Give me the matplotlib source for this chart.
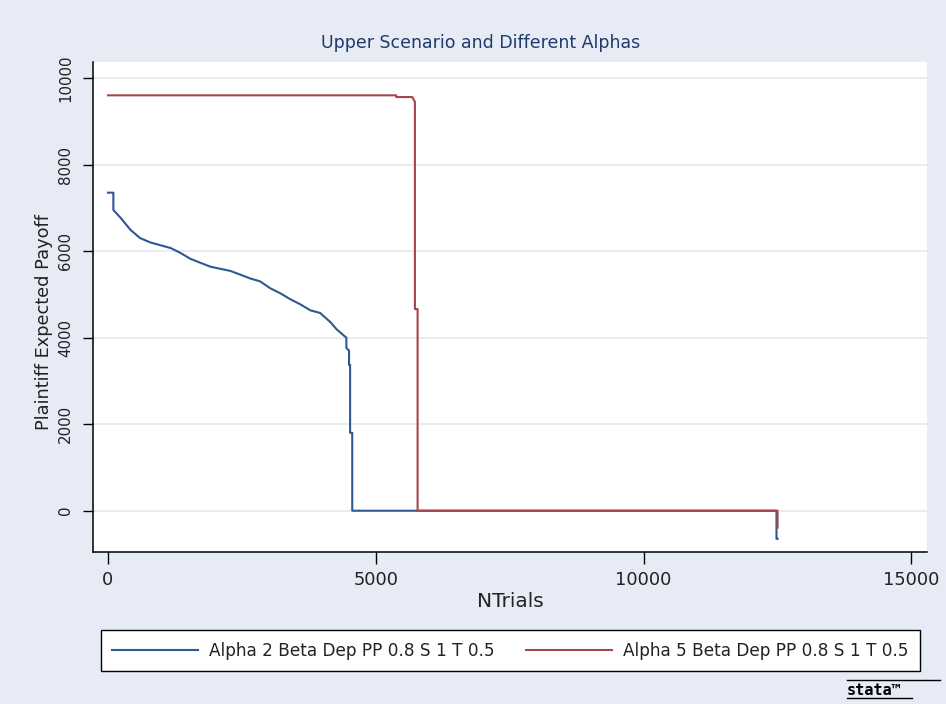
import matplotlib
matplotlib.use("Agg")
import matplotlib.pyplot as plt
from matplotlib.lines import Line2D

# Plaintiff expected payoff by number of trials
alpha2_trials = [0, 100, 100, 235, 420, 600, 790, 1170, 1350, 1540, 1910, 2290,
                 2650, 2840, 3030, 3210, 3400, 3590, 3780, 3960, 4150, 4270,
                 4430, 4450, 4450, 4500, 4500, 4520, 4520, 4560, 4560, 12480,
                 12480, 12500]
alpha2_payoff = [7350, 7350, 6950, 6770, 6490, 6300, 6200, 6070, 5960, 5820,
                 5640, 5540, 5370, 5300, 5140, 5030, 4890, 4770, 4630, 4570,
                 4360, 4190, 4020, 4000, 3760, 3700, 3370, 3370, 1800, 1800,
                 0, 0, -650, -650]

alpha5_trials = [0, 5380, 5380, 5680, 5730, 5730, 5780, 5780, 12500, 12500]
alpha5_payoff = [9600, 9600, 9560, 9560, 9450, 4660, 4660, 0, 0, -390]

series_labels = ["Alpha 2 Beta Dep PP 0.8 S 1 T 0.5",
                 "Alpha 5 Beta Dep PP 0.8 S 1 T 0.5"]
x_ticks = [0, 5000, 10000, 15000]
y_ticks = [0, 2000, 4000, 6000, 8000, 10000]

W, H = 946, 704
BG = "#e7ebf6"
NAVY = "#2f5790"
MAROON = "#a8454c"
INK = "#222222"

fig = plt.figure(figsize=(W / 100, H / 100), dpi=100, facecolor=BG)
ax = fig.add_axes([93 / W, 1 - 552 / H, (927 - 93) / W, (552 - 62) / H])
ax.set_facecolor("white")

ax.plot(alpha2_trials, alpha2_payoff, color=NAVY, lw=1.5, label=series_labels[0])
ax.plot(alpha5_trials, alpha5_payoff, color=MAROON, lw=1.5, label=series_labels[1])

ax.set_xlim(-280, 15290)
ax.set_ylim(-954, 10370)

for s in ("top", "right"):
    ax.spines[s].set_visible(False)
for s in ("left", "bottom"):
    ax.spines[s].set_color("black")
    ax.spines[s].set_linewidth(1.1)

ax.set_yticks(y_ticks)
ax.set_yticklabels([str(v) for v in y_ticks], rotation=90, va="center",
                   family="DejaVu Sans", fontsize=10.8, color=INK)
ax.set_xticks(x_ticks)
ax.set_xticklabels([str(v) for v in x_ticks], family="DejaVu Sans",
                   fontsize=12.8, color=INK)
ax.tick_params(axis="y", length=7.2, width=1, direction="out", pad=7)
ax.tick_params(axis="x", length=8.6, width=1, direction="out", pad=5)

ax.yaxis.grid(True, color="#e3e9f4", lw=1.2)
ax.set_axisbelow(True)

ax.set_xlabel("NTrials", family="DejaVu Sans", fontsize=14.5, color=INK,
              labelpad=2)
ax.set_ylabel("Plaintiff Expected Payoff", family="DejaVu Sans", fontsize=12.8,
              color=INK)
ax.yaxis.set_label_coords((53 - 93) / 834, 0.47)

fig.text(481 / W, 1 - 43 / H, "Upper Scenario and Different Alphas",
         ha="center", va="center", family="DejaVu Sans", fontsize=12.5,
         color="#203a6b")

leg = ax.legend(loc="center",
                bbox_to_anchor=(101 / W, 1 - 673 / H, 819 / W, 45 / H),
                bbox_transform=fig.transFigure, ncol=2, mode="expand",
                fancybox=False, edgecolor="black", framealpha=1,
                handlelength=5.1, handletextpad=0.65, borderaxespad=0,
                borderpad=0.65, prop={"family": "DejaVu Sans", "size": 12.2})
leg.get_frame().set_linewidth(1.0)
for t in leg.get_texts():
    t.set_color(INK)

# Stata wordmark in the lower right corner
fig.add_artist(Line2D([847 / W, 940 / W], [1 - 680 / H] * 2,
                      transform=fig.transFigure, color="black", lw=1.0))
fig.add_artist(Line2D([847 / W, 912 / W], [1 - 697.5 / H] * 2,
                      transform=fig.transFigure, color="black", lw=1.0))
fig.text(847 / W, 1 - 690.5 / H, "stata™", ha="left", va="center",
         family="DejaVu Sans Mono", fontsize=11, weight="bold", color="black")

fig.savefig("out.png", dpi=100, facecolor=BG)
